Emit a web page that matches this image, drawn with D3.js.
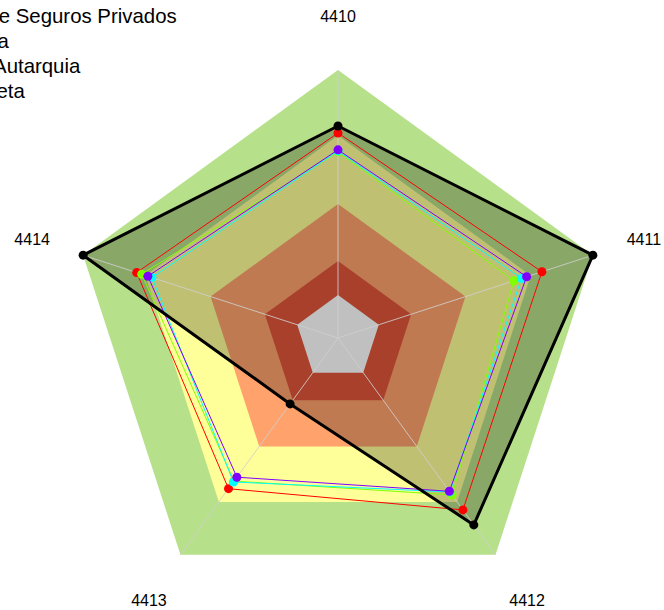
<!DOCTYPE html>
<html>
<head>
<meta charset="utf-8">
<script src="https://cdn.jsdelivr.net/npm/d3@7"></script>
<style>
  html, body { margin: 0; padding: 0; background: #ffffff; }
  svg { display: block; font-family: "Liberation Sans", Arial, sans-serif; }
</style>
</head>
<body>
<svg id="chart" width="664" height="610"></svg>
<script>
// Axis (item) codes, clockwise from the top
const axes = ["4410", "4411", "4412", "4413", "4414"];

// Background performance bands, outer edge of each band (0-100 scale)
const bandLevels = [100, 75.6, 50, 28.7, 16];
const bandColors = ["#b6e08a", "#ffff99", "#ffa26c", "#e0553a", "#ffffff"];

// Comparison series
const seriesNames = [
  "Superintendência de Seguros Privados",
  "Média da Esplanada",
  "Média nacional da Autarquia",
  "Órgãos da Adm Direta"
];
const seriesColors = ["#ff0000", "#80ff00", "#00ffff", "#8000ff"];
const susepValues     = [76.5, 80.0, 79.3, 69.5, 79.0];
const esplanadaValues = [69.5, 69.0, 72.4, 66.0, 77.0];
const autarquiaValues = [69.8, 72.0, 71.0, 66.4, 73.0];
const diretaValues    = [70.2, 74.0, 70.7, 64.2, 74.6];

// Unit being evaluated (highlighted polygon)
const unidadeName = "Unidade avaliada";
const unidadeValues = [79.1, 100, 86.2, 30.4, 100];

const seriesValues = [susepValues, esplanadaValues, autarquiaValues, diretaValues];

const svg = d3.select("#chart");
const width = 664, height = 610;
const cx = 338, cy = 338, R = 268;

svg.append("rect").attr("width", width).attr("height", height).attr("fill", "#ffffff");

const r = d3.scaleLinear().domain([0, 100]).range([0, R]);
const angle = d3.scalePoint().domain(axes).range([0, 2 * Math.PI * (axes.length - 1) / axes.length]);

const radial = d3.lineRadial()
  .angle((d, i) => angle(axes[i]))
  .radius(d => r(d))
  .curve(d3.curveLinearClosed);

const g = svg.append("g").attr("transform", `translate(${cx},${cy})`);

// Bands, outermost first
bandLevels.forEach((lvl, i) => {
  g.append("path")
    .attr("d", radial(axes.map(() => lvl)))
    .attr("fill", bandColors[i])
    .attr("stroke", "none");
});

// Shaded area of the evaluated unit
g.append("path")
  .attr("d", radial(unidadeValues))
  .attr("fill", "#000000")
  .attr("fill-opacity", 0.247)
  .attr("stroke", "none");

// Spokes
const pt = (a, v) => {
  const t = angle(a);
  return [Math.sin(t) * r(v), -Math.cos(t) * r(v)];
};
axes.forEach(a => {
  const [x, y] = pt(a, 100);
  g.append("line")
    .attr("x1", 0).attr("y1", 0).attr("x2", x).attr("y2", y)
    .attr("stroke", "#cfcfcf").attr("stroke-opacity", 0.85).attr("stroke-width", 1);
});

// Axis labels
axes.forEach(a => {
  const [x, y] = pt(a, 120);
  const dy = y > 0 ? 8 : 6;
  g.append("text")
    .attr("x", x).attr("y", y + dy)
    .attr("text-anchor", "middle")
    .attr("font-size", 16)
    .attr("fill", "#000000")
    .text(a);
});

// Comparison series
seriesValues.forEach((vals, k) => {
  g.append("path")
    .attr("d", radial(vals))
    .attr("fill", "none")
    .attr("stroke", seriesColors[k])
    .attr("stroke-width", 1);
  g.selectAll(null).data(vals).enter().append("circle")
    .attr("cx", (d, i) => pt(axes[i], d)[0])
    .attr("cy", (d, i) => pt(axes[i], d)[1])
    .attr("r", 4.5)
    .attr("fill", seriesColors[k]);
});

// Evaluated unit outline
g.append("path")
  .attr("d", radial(unidadeValues))
  .attr("fill", "none")
  .attr("stroke", "#000000")
  .attr("stroke-width", 3)
  .attr("stroke-linejoin", "round");
g.selectAll(null).data(unidadeValues).enter().append("circle")
  .attr("cx", (d, i) => pt(axes[i], d)[0])
  .attr("cy", (d, i) => pt(axes[i], d)[1])
  .attr("r", 4.5)
  .attr("fill", "#000000");

// Legend (top-left)
const legendX = -177;
const legend = svg.append("g");
seriesNames.forEach((name, i) => {
  const y = 23 + 25 * i;
  legend.append("line")
    .attr("x1", legendX - 42).attr("x2", legendX - 12)
    .attr("y1", y - 7).attr("y2", y - 7)
    .attr("stroke", seriesColors[i]).attr("stroke-width", 1);
  legend.append("circle")
    .attr("cx", legendX - 27).attr("cy", y - 7).attr("r", 4.5)
    .attr("fill", seriesColors[i]);
  legend.append("text")
    .attr("x", legendX).attr("y", y)
    .attr("font-size", 20.4)
    .attr("fill", "#000000")
    .text(name);
});

// Note under the chart
svg.append("text")
  .attr("x", 2).attr("y", 623.5)
  .attr("font-size", 20)
  .attr("fill", "#555555")
  .text("Nota");
</script>
</body>
</html>
